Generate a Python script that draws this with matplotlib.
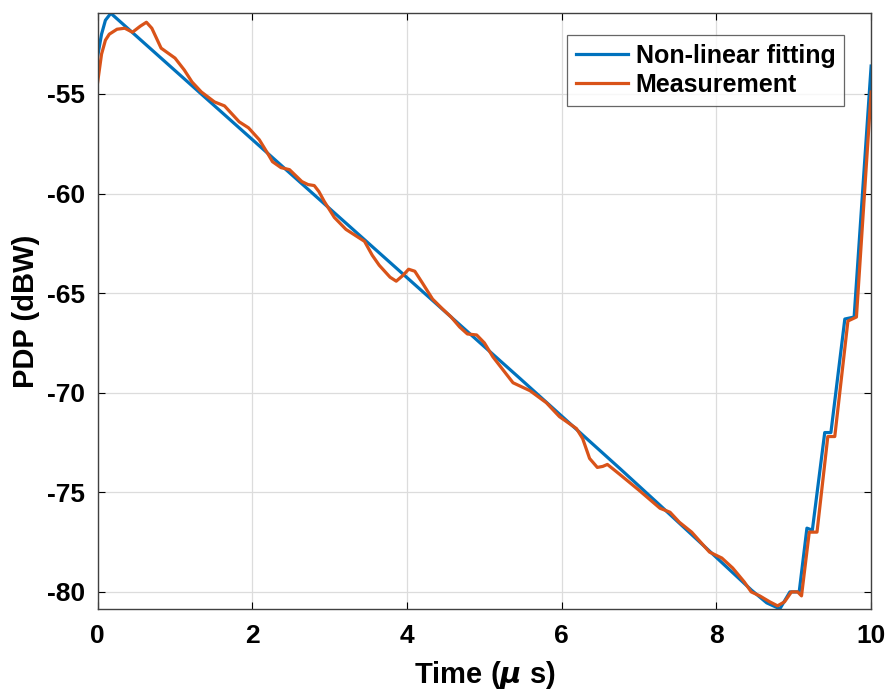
import matplotlib
matplotlib.use('Agg')
import matplotlib.pyplot as plt

# Non-linear fitting (blue)
fit_t = [0.00, 0.05, 0.10, 0.17, 5.45, 6.75, 7.27, 7.91, 8.45, 8.65, 8.82, 8.95, 9.07, 9.17, 9.24,
         9.40, 9.48, 9.66, 9.78, 10.00]
fit_pdp = [-53.1, -52.0, -51.3, -50.95, -69.25, -73.8, -75.65, -77.95, -79.9, -80.55, -80.85, -80.0, -80.0,
           -76.8, -76.9, -72.0, -72.0, -66.3, -66.2, -53.6]

# Measurement (orange)
meas_t = [0.00, 0.05, 0.10, 0.15, 0.25, 0.35, 0.45, 0.55, 0.63, 0.70, 0.82, 1.00, 1.12, 1.22,
          1.34, 1.51, 1.64, 1.83, 1.95, 2.09, 2.20, 2.26, 2.37, 2.48, 2.56, 2.64, 2.72, 2.80,
          2.86, 2.93, 3.06, 3.21, 3.45, 3.55, 3.64, 3.78, 3.86, 3.95, 4.02, 4.10, 4.20, 4.33,
          4.46, 4.57, 4.68, 4.78, 4.90, 5.00, 5.11, 5.37, 5.59, 5.80, 5.97, 6.19, 6.27, 6.36,
          6.46, 6.53, 6.59, 6.75, 7.00, 7.27, 7.40, 7.52, 7.68, 7.91, 8.07, 8.21, 8.36, 8.45,
          8.56, 8.69, 8.79, 8.88, 8.97, 9.05, 9.10, 9.20, 9.30, 9.44, 9.53, 9.70, 9.81, 10.00]
meas_pdp = [-54.4, -53.0, -52.3, -52.0, -51.75, -51.7, -51.9, -51.6, -51.4, -51.7, -52.7, -53.2, -53.8, -54.4,
            -54.9, -55.4, -55.6, -56.4, -56.7, -57.3, -58.0, -58.4, -58.7, -58.8, -59.1, -59.4, -59.55, -59.6,
            -59.9, -60.4, -61.2, -61.8, -62.4, -63.1, -63.6, -64.2, -64.4, -64.1, -63.8, -63.9, -64.5, -65.3,
            -65.8, -66.2, -66.7, -67.05, -67.1, -67.5, -68.2, -69.5, -69.9, -70.5, -71.2, -71.8, -72.3, -73.3,
            -73.75, -73.7, -73.6, -74.1, -74.9, -75.8, -76.0, -76.5, -77.0, -78.0, -78.3, -78.8, -79.5, -80.0,
            -80.2, -80.5, -80.7, -80.5, -80.0, -80.0, -80.2, -77.0, -77.0, -72.2, -72.2, -66.4, -66.2, -54.9]

x_ticks = [0, 2, 4, 6, 8, 10]
y_ticks = [-80, -75, -70, -65, -60, -55]

plt.rcParams['font.family'] = ['Liberation Sans', 'DejaVu Sans']
plt.rcParams['font.weight'] = 'bold'
plt.rcParams['axes.unicode_minus'] = False

fig = plt.figure(figsize=(8.88, 6.99), dpi=100)
ax = fig.add_axes([0.110, 0.129, 0.871, 0.852])

ax.plot(fit_t, fit_pdp, color='#0072BD', lw=2.3, label='Non-linear fitting')
ax.plot(meas_t, meas_pdp, color='#D95319', lw=2.3, label='Measurement')

ax.set_xlim(0, 10)
ax.set_ylim(-80.85, -50.95)
ax.set_xticks(x_ticks)
ax.set_yticks(y_ticks)
ax.tick_params(direction='in', top=True, right=True, labelsize=19, length=5, width=0.8, pad=9)
ax.tick_params(axis='x', pad=11)
for lab in ax.get_xticklabels() + ax.get_yticklabels():
    lab.set_fontweight('bold')
ax.grid(True, color='#dcdcdc', lw=0.9)
ax.set_axisbelow(True)
for s in ax.spines.values():
    s.set_color('#404040')
    s.set_linewidth(1.0)

ax.set_xlabel('Time ($\\mu$ s)', fontsize=21, fontweight='bold', labelpad=8)
ax.set_ylabel('PDP (dBW)', fontsize=21, fontweight='bold', labelpad=5)

leg = ax.legend(loc='upper right', bbox_to_anchor=(0.965, 0.963),
                prop={'weight': 'bold', 'size': 18}, frameon=True, fancybox=False,
                handlelength=2.1, borderpad=0.35, labelspacing=0.2, handletextpad=0.3,
                borderaxespad=0)
leg.get_frame().set_edgecolor('#404040')
leg.get_frame().set_linewidth(0.9)

fig.savefig('out.png', dpi=100)
